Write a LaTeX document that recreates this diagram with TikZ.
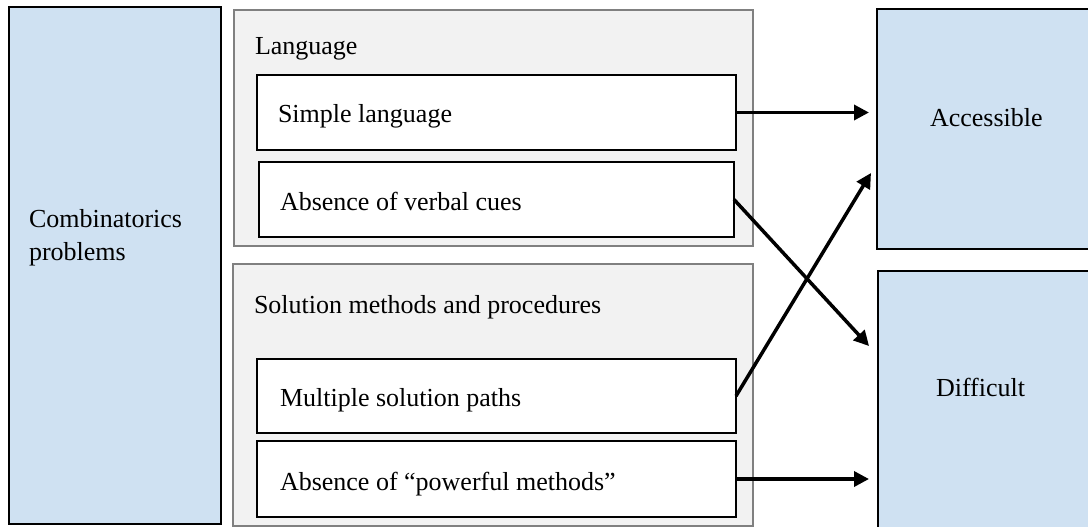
\documentclass[tikz,border=0pt]{standalone}
\usepackage{fontspec}
\setmainfont{Liberation Serif}
\usetikzlibrary{arrows.meta,calc}
\definecolor{boxblue}{RGB}{207,225,242}
\definecolor{groupfill}{RGB}{242,242,242}
\definecolor{groupline}{RGB}{128,128,128}
\begin{document}
\begin{tikzpicture}[x=1pt,y=-1pt,
  every node/.style={inner sep=0pt,outer sep=0pt},
  bluebox/.style={draw=black,line width=2pt,fill=boxblue},
  groupbox/.style={draw=groupline,line width=1.5pt,fill=groupfill},
  itembox/.style={draw=black,line width=2pt,fill=white},
  label/.style={anchor=base west,font=\fontsize{26}{33}\selectfont,align=left},
  flow/.style={line width=3.5pt,-{Triangle[length=15pt,width=15pt]}}]
\useasboundingbox (0,0) rectangle (1088,527);

% outer boxes
\draw[bluebox] (9,7) rectangle (221,524);
\node (combo) at (115,265) {};
\draw[groupbox] (234,10) rectangle (753,246);
\draw[groupbox] (233,264) rectangle (753,526);
\draw[bluebox] (877,9) rectangle (1110,249);
\draw[bluebox] (878,271) rectangle (1110,545);

% named frames for the item boxes and targets
\node[itembox,anchor=north west,minimum width=479pt,minimum height=75pt] (simple) at (257,75) {};
\node[itembox,anchor=north west,minimum width=475pt,minimum height=75pt] (verbal) at (259,162) {};
\node[itembox,anchor=north west,minimum width=479pt,minimum height=74pt] (multi) at (257,359) {};
\node[itembox,anchor=north west,minimum width=479pt,minimum height=76pt] (power) at (257,441) {};
\node[anchor=north west,minimum width=233pt,minimum height=240pt] (acc) at (877,9) {};
\node[anchor=north west,minimum width=233pt,minimum height=274pt] (diff) at (878,271) {};

% texts
\node[label] (tcombo) at (29,260) {Combinatorics\\problems};
\node[label] (tlang) at (255,55) {Language};
\node[label] (tsimple) at (278,123) {Simple language};
\node[label] (tverbal) at (280,210) {Absence of verbal cues};
\node[label] (tsol) at (254,313) {Solution methods and procedures};
\node[label] (tmulti) at (280,406) {Multiple solution paths};
\node[label] (tpower) at (280,490) {Absence of “powerful methods”};
\node[label] (tacc) at (930,127) {Accessible};
\node[label] (tdiff) at (936,396) {Difficult};

% arrow targets
\coordinate (accIn) at (871,173);
\coordinate (diffIn) at (869,346);

% connectors
\draw[flow,shorten >=8pt] (simple.east) -- (simple.east -| acc.west);
\draw[flow] (verbal.east) -- (diffIn);
\draw[flow] (multi.east) -- (accIn);
\draw[flow,shorten >=9pt] (power.east) -- (power.east -| diff.west);
\end{tikzpicture}
\end{document}
